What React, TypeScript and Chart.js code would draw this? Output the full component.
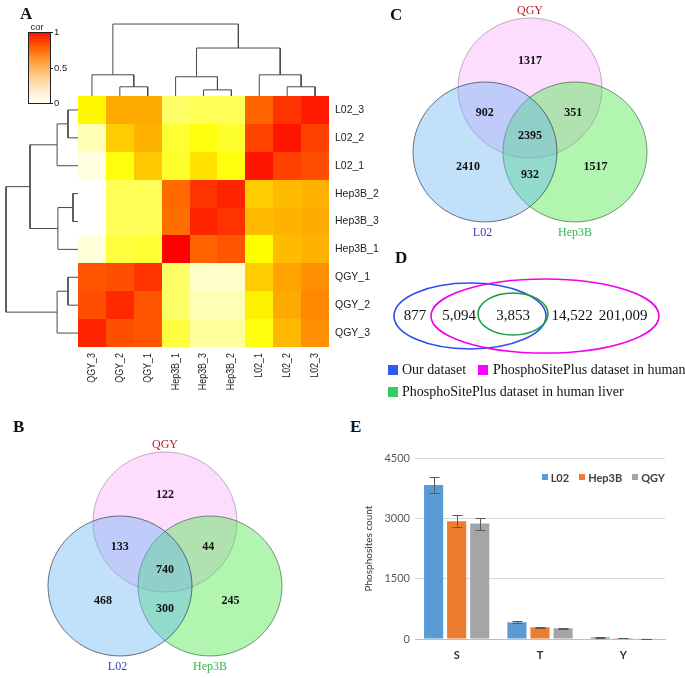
import React, { useEffect, useRef } from 'react';
import { Chart, registerables } from 'chart.js';
Chart.register(...registerables);

const SERIF = '"Liberation Serif", "Times New Roman", serif';
const SANS = '"Liberation Sans", Arial, sans-serif';
const LATO = 'Lato, "Liberation Sans", sans-serif';
Chart.defaults.font.family = SANS;

// ---------------- Panel A: correlation heatmap ----------------
const rowLabels = ['L02_3', 'L02_2', 'L02_1', 'Hep3B_2', 'Hep3B_3', 'Hep3B_1', 'QGY_1', 'QGY_2', 'QGY_3'];
const colLabels = ['QGY_3', 'QGY_2', 'QGY_1', 'Hep3B_1', 'Hep3B_3', 'Hep3B_2', 'L02_1', 'L02_2', 'L02_3'];
const corL02_3 = [0.42, 0.6, 0.6, 0.25, 0.27, 0.27, 0.77, 0.9, 0.95];
const corL02_2 = [0.15, 0.52, 0.58, 0.32, 0.38, 0.33, 0.85, 0.96, 0.86];
const corL02_1 = [0.08, 0.38, 0.53, 0.33, 0.47, 0.38, 0.96, 0.86, 0.82];
const corHep3B_2 = [0.0, 0.27, 0.27, 0.76, 0.9, 0.93, 0.52, 0.56, 0.58];
const corHep3B_3 = [0.0, 0.27, 0.27, 0.75, 0.93, 0.9, 0.56, 0.58, 0.6];
const corHep3B_1 = [0.1, 0.3, 0.32, 1.0, 0.77, 0.8, 0.4, 0.56, 0.58];
const corQGY_1 = [0.8, 0.82, 0.9, 0.25, 0.12, 0.12, 0.52, 0.62, 0.68];
const corQGY_2 = [0.82, 0.92, 0.8, 0.25, 0.15, 0.15, 0.43, 0.6, 0.7];
const corQGY_3 = [0.93, 0.82, 0.8, 0.3, 0.18, 0.18, 0.38, 0.57, 0.68];
const corRows = [corL02_3, corL02_2, corL02_1, corHep3B_2, corHep3B_3, corHep3B_1, corQGY_1, corQGY_2, corQGY_3];
const colorbarTicks = [0, 0.5, 1];
// merges: [child a, child b, height]; leaves 0..8, merged nodes numbered 9.. in order
const colMerges: [number, number, number][] = [
  [1, 2, 0.33], [0, 9, 0.76], [4, 5, 0.22], [3, 11, 0.69],
  [7, 8, 0.33], [6, 13, 0.76], [12, 14, 1.72], [10, 15, 2.58],
];
const rowMerges: [number, number, number][] = [
  [0, 1, 0.36], [2, 9, 0.75], [3, 4, 0.18], [5, 11, 0.72],
  [10, 12, 1.72], [6, 7, 0.36], [8, 14, 0.75], [13, 15, 2.58],
];

const heatStops: [number, string][] = [
  [0, '#FFFFFF'], [0.1, '#FFFFD8'], [0.2, '#FFFF90'], [0.3, '#FFFF40'], [0.4, '#FFFF00'],
  [0.5, '#FFD500'], [0.6, '#FFAA00'], [0.7, '#FF8800'], [0.8, '#FF5500'], [0.9, '#FF3300'], [1, '#FF0000'],
];
const colorbarStops: [number, string][] = [
  [0, '#FFFFF5'], [0.2, '#FFE8C8'], [0.4, '#FFC880'], [0.6, '#FF9A30'], [0.8, '#FF5A00'], [1, '#FF1000'],
];

function hexRgb(h: string) {
  return [parseInt(h.slice(1, 3), 16), parseInt(h.slice(3, 5), 16), parseInt(h.slice(5, 7), 16)];
}
function heatColor(v: number) {
  for (let k = 1; k < heatStops.length; k++) {
    const [v1, c1] = heatStops[k];
    if (v <= v1 || k === heatStops.length - 1) {
      const [v0, c0] = heatStops[k - 1];
      const t = Math.max(0, Math.min(1, (v - v0) / (v1 - v0)));
      const a = hexRgb(c0), b = hexRgb(c1);
      return `rgb(${a.map((x, i) => Math.round(x + (b[i] - x) * t)).join(',')})`;
    }
  }
  return '#fff';
}

function dendroSegments(merges: [number, number, number][], n: number, orient: 'top' | 'left') {
  const pos: number[] = [];
  const h: number[] = [];
  for (let i = 0; i < n; i++) { pos.push(i + 0.5); h.push(0); }
  const out: { x: number; y: number }[][] = [];
  merges.forEach(([a, b, ht]) => {
    const pts: [number, number][] = [[pos[a], h[a]], [pos[a], ht], [pos[b], ht], [pos[b], h[b]]];
    out.push(pts.map(([p, d]) => (orient === 'top' ? { x: p, y: -d } : { x: -d, y: p })));
    pos.push((pos[a] + pos[b]) / 2);
    h.push(ht);
  });
  return out;
}

const heatmapPlugin = {
  id: 'heatmapCells',
  beforeDatasetsDraw(chart: any) {
    const { ctx, scales: { x, y } } = chart;
    corRows.forEach((row, i) => row.forEach((v, j) => {
      const x0 = Math.round(x.getPixelForValue(j)), x1 = Math.round(x.getPixelForValue(j + 1));
      const y0 = Math.round(y.getPixelForValue(i)), y1 = Math.round(y.getPixelForValue(i + 1));
      ctx.fillStyle = heatColor(v);
      ctx.fillRect(x0, y0, x1 - x0, y1 - y0);
    }));
  },
  afterDraw(chart: any) {
    const { ctx, scales: { x, y }, chartArea } = chart;
    ctx.save();
    ctx.fillStyle = '#222';
    ctx.font = `10.5px ${SANS}`;
    ctx.textAlign = 'left';
    ctx.textBaseline = 'middle';
    rowLabels.forEach((l, i) => ctx.fillText(l, chartArea.right + 6, y.getPixelForValue(i + 0.5)));
    colLabels.forEach((l, j) => {
      ctx.save();
      ctx.translate(x.getPixelForValue(j + 0.5), chartArea.bottom + 6);
      ctx.rotate(-Math.PI / 2);
      ctx.scale(0.85, 1);
      ctx.textAlign = 'right';
      ctx.fillText(l, 0, 0);
      ctx.restore();
    });
    // colour key
    const bx = 28, by = 32, bw = 22, bh = 71;
    const g = ctx.createLinearGradient(0, by + bh, 0, by);
    colorbarStops.forEach(([s, c]) => g.addColorStop(s, c));
    ctx.fillStyle = g;
    ctx.fillRect(bx, by, bw, bh);
    ctx.strokeStyle = '#222';
    ctx.lineWidth = 1;
    ctx.strokeRect(bx + 0.5, by + 0.5, bw, bh);
    ctx.fillStyle = '#222';
    ctx.font = `9.5px ${SANS}`;
    ctx.textAlign = 'center';
    ctx.textBaseline = 'bottom';
    ctx.fillText('cor', bx + bw / 2 - 2, by);
    ctx.textAlign = 'left';
    ctx.textBaseline = 'middle';
    colorbarTicks.forEach((t) => {
      const ty = Math.round(by + bh - t * bh) + 0.5;
      ctx.beginPath();
      ctx.moveTo(bx + bw, ty);
      ctx.lineTo(bx + bw + 3, ty);
      ctx.stroke();
      ctx.fillText(String(t), bx + bw + 4, ty);
    });
    ctx.restore();
  },
};

function heatmapConfig() {
  const segs = [...dendroSegments(colMerges, colLabels.length, 'top'), ...dendroSegments(rowMerges, rowLabels.length, 'left')];
  return {
    type: 'scatter',
    data: {
      datasets: segs.map((s) => ({
        data: s, showLine: true, borderColor: '#4a4a4a', borderWidth: 1, pointRadius: 0, clip: false, tension: 0,
      })),
    },
    options: {
      animation: false, responsive: false, events: [],
      layout: { padding: { left: 78, right: 71, top: 96, bottom: 63 } },
      scales: {
        x: { type: 'linear', min: 0, max: 9, display: false },
        y: { type: 'linear', min: 0, max: 9, reverse: true, display: false },
      },
      plugins: { legend: { display: false }, tooltip: { enabled: false } },
    },
    plugins: [heatmapPlugin],
  };
}

// ---------------- Panels B & C: three-set Venn diagrams ----------------
const vennSets = ['QGY', 'L02', 'Hep3B'];
const vennCenterX = [0, -0.625, 0.625];
const vennCenterY = [0.457, -0.457, -0.457];
const vennRadius = 1;
const vennLabelX = [0, -0.66, 0.625];
const vennLabelY = [1.56, -1.61, -1.61];
// regions: QGY only, QGY∩L02, QGY∩Hep3B, all, L02 only, L02∩Hep3B, Hep3B only
const vennCountsB = [122, 133, 44, 740, 468, 300, 245];
const vennCountsC = [1317, 902, 351, 2395, 2410, 932, 1517];
const regionX = [0, -0.63, 0.6, 0, -0.86, 0, 0.91];
const regionY = [0.85, 0.1, 0.1, -0.23, -0.67, -0.79, -0.67];
const vennFill = ['rgba(250,180,250,0.45)', 'rgba(100,180,245,0.4)', 'rgba(70,230,70,0.42)'];
const vennStroke = ['rgba(150,110,150,0.55)', 'rgba(50,60,80,0.7)', 'rgba(50,80,50,0.6)'];
const vennLabelColor = ['#B4202E', '#3838B8', '#2EB84B'];
const vennDrawOrder = [0, 2, 1];

function vennConfig(counts: number[], padding: any) {
  const plugin = {
    id: 'venn',
    afterDatasetsDraw(chart: any) {
      const { ctx, scales: { x, y } } = chart;
      const rx = Math.abs(x.getPixelForValue(vennRadius) - x.getPixelForValue(0));
      const ry = Math.abs(y.getPixelForValue(vennRadius) - y.getPixelForValue(0));
      ctx.save();
      vennDrawOrder.forEach((i) => {
        ctx.beginPath();
        ctx.ellipse(x.getPixelForValue(vennCenterX[i]), y.getPixelForValue(vennCenterY[i]), rx, ry, 0, 0, Math.PI * 2);
        ctx.fillStyle = vennFill[i];
        ctx.fill();
        ctx.strokeStyle = vennStroke[i];
        ctx.lineWidth = 1;
        ctx.stroke();
      });
      ctx.textAlign = 'center';
      ctx.textBaseline = 'middle';
      ctx.font = `bold 12px ${SERIF}`;
      ctx.fillStyle = '#111';
      counts.forEach((c, k) => ctx.fillText(String(c), x.getPixelForValue(regionX[k]), y.getPixelForValue(regionY[k])));
      ctx.font = `12px ${SERIF}`;
      vennSets.forEach((s, i) => {
        ctx.fillStyle = vennLabelColor[i];
        ctx.fillText(s, x.getPixelForValue(vennLabelX[i]), y.getPixelForValue(vennLabelY[i]));
      });
      ctx.restore();
    },
  };
  return {
    type: 'scatter',
    data: { datasets: [{ data: vennCenterX.map((cx, i) => ({ x: cx, y: vennCenterY[i] })), pointRadius: 0 }] },
    options: {
      animation: false, responsive: false, events: [],
      layout: { padding },
      scales: {
        x: { type: 'linear', min: -2, max: 2, display: false },
        y: { type: 'linear', min: -1.6, max: 1.6, display: false },
      },
      plugins: { legend: { display: false }, tooltip: { enabled: false } },
    },
    plugins: [plugin],
  };
}

// ---------------- Panel D: nested Venn of datasets ----------------
const dSets = ['Our dataset', 'PhosphoSitePlus dataset in human', 'PhosphoSitePlus dataset in human liver'];
const dCenterX = [8.0, 15.5, 12.3];
const dCenterY = [0, 0, 0.2];
const dRadiusX = [7.6, 11.4, 3.5];
const dRadiusY = [3.3, 3.7, 2.1];
const dStroke = ['#2B4FEE', '#F000F0', '#1A9E3A'];
const dLegendColor = ['#2F5BF5', '#FF00FF', '#33CC66'];
const dCounts = [877, 5094, 3853, 14522, 201009];
const dCountX = [2.5, 6.9, 12.3, 18.2, 23.3];

function dConfig() {
  const plugin = {
    id: 'dVenn',
    afterDatasetsDraw(chart: any) {
      const { ctx, scales: { x, y } } = chart;
      ctx.save();
      dSets.forEach((_, i) => {
        const cx = x.getPixelForValue(dCenterX[i]), cy = y.getPixelForValue(dCenterY[i]);
        const rx = Math.abs(x.getPixelForValue(dCenterX[i] + dRadiusX[i]) - cx);
        const ry = Math.abs(y.getPixelForValue(dCenterY[i] + dRadiusY[i]) - cy);
        ctx.beginPath();
        ctx.ellipse(cx, cy, rx, ry, 0, 0, Math.PI * 2);
        ctx.strokeStyle = dStroke[i];
        ctx.lineWidth = 1.6;
        ctx.stroke();
      });
      ctx.fillStyle = '#111';
      ctx.font = `15px ${SERIF}`;
      ctx.textAlign = 'center';
      ctx.textBaseline = 'middle';
      dCounts.forEach((c, k) => ctx.fillText(c.toLocaleString('en-US'), x.getPixelForValue(dCountX[k]), y.getPixelForValue(0)));
      ctx.restore();
    },
  };
  return {
    type: 'scatter',
    data: { datasets: [{ data: dCenterX.map((cx, i) => ({ x: cx, y: dCenterY[i] })), pointRadius: 0 }] },
    options: {
      animation: false, responsive: false, events: [],
      layout: { padding: { left: 10, right: 10, top: 10, bottom: 10 } },
      scales: {
        x: { type: 'linear', min: 0, max: 28, display: false },
        y: { type: 'linear', min: -4, max: 4, display: false },
      },
      plugins: { legend: { display: false }, tooltip: { enabled: false } },
    },
    plugins: [plugin],
  };
}

// ---------------- Panel E: phosphosite counts ----------------
const phosphoCategories = ['S', 'T', 'Y'];
const cellLines = ['L02', 'Hep3B', 'QGY'];
const l02Counts = [3830, 415, 42];
const hep3BCounts = [2930, 290, 22];
const qgyCounts = [2870, 267, 9];
const l02Errors = [195, 25, 6];
const hep3BErrors = [150, 12, 4];
const qgyErrors = [150, 12, 3];
const barColors = ['#5B9BD5', '#ED7D31', '#A5A5A5'];
const yTickStep = 1500;
const yMax = 4500;

const errorBarPlugin = {
  id: 'errorBars',
  afterDatasetsDraw(chart: any) {
    const { ctx, scales: { y } } = chart;
    const errs = [l02Errors, hep3BErrors, qgyErrors];
    ctx.save();
    ctx.strokeStyle = '#595959';
    ctx.lineWidth = 1;
    chart.data.datasets.forEach((ds: any, i: number) => {
      chart.getDatasetMeta(i).data.forEach((bar: any, j: number) => {
        const v = ds.data[j], e = errs[i][j];
        const bx = Math.round(bar.x) + 0.5;
        const yt = Math.round(y.getPixelForValue(v + e)) + 0.5;
        const yb = Math.round(y.getPixelForValue(v - e)) + 0.5;
        ctx.beginPath();
        ctx.moveTo(bx, yt); ctx.lineTo(bx, yb);
        ctx.moveTo(bx - 5, yt); ctx.lineTo(bx + 5, yt);
        ctx.moveTo(bx - 5, yb); ctx.lineTo(bx + 5, yb);
        ctx.stroke();
      });
    });
    ctx.restore();
  },
};

function barConfig() {
  const series = [l02Counts, hep3BCounts, qgyCounts];
  return {
    type: 'bar',
    data: {
      labels: phosphoCategories,
      datasets: cellLines.map((name, i) => ({
        label: name, data: series[i], backgroundColor: barColors[i], borderWidth: 0,
        categoryPercentage: 0.83, barPercentage: 0.83,
      })),
    },
    options: {
      animation: false, responsive: false, events: [],
      layout: { padding: { left: 0, right: 20, top: 18, bottom: 0 } },
      scales: {
        x: {
          grid: { display: false, drawTicks: false },
          border: { display: true, color: '#BFBFBF' },
          ticks: { font: { family: LATO, size: 11, weight: 'bold' }, color: '#333', padding: 10 },
          afterFit: (s: any) => { s.height = 39; },
        },
        y: {
          min: 0, max: yMax,
          ticks: {
            stepSize: yTickStep, font: { family: LATO, size: 11 }, color: '#595959', padding: 5,
            callback: (v: any) => String(v),
          },
          grid: { color: '#D9D9D9', drawTicks: false },
          border: { display: false },
          title: { display: true, text: 'Phosphosites count', font: { family: LATO, size: 10 }, color: '#333', padding: { top: 3, bottom: 0 } },
          afterFit: (s: any) => { s.width = 55; },
        },
      },
      plugins: { legend: { display: false }, tooltip: { enabled: false } },
    },
    plugins: [errorBarPlugin],
  };
}

// ---------------- components ----------------
function ChartBox({ left, top, width, height, make }: { left: number; top: number; width: number; height: number; make: () => any }) {
  const ref = useRef<HTMLCanvasElement>(null);
  useEffect(() => {
    const c = new Chart(ref.current as HTMLCanvasElement, make());
    return () => c.destroy();
  }, []);
  return <canvas ref={ref} width={width} height={height} style={{ position: 'absolute', left, top, width, height }} />;
}

const letterStyle = (left: number, top: number): React.CSSProperties => ({
  position: 'absolute', left, top, font: `bold 17px ${SERIF}`, lineHeight: '17px', color: '#111',
});

function Swatch({ left, top, color, label, size, font, gap, textColor }: any) {
  return (
    <div style={{ position: 'absolute', left, top, height: 16, display: 'flex', alignItems: 'center', whiteSpace: 'nowrap' }}>
      <span style={{ width: size, height: size, background: color, display: 'inline-block', marginRight: gap }} />
      <span style={{ font, color: textColor }}>{label}</span>
    </div>
  );
}

export default function App() {
  return (
    <div style={{ position: 'absolute', left: 0, top: 0, width: 685, height: 678, overflow: 'hidden', background: '#fff' }}>
      <ChartBox left={0} top={0} width={400} height={410} make={heatmapConfig} />
      <ChartBox left={0} top={420} width={340} height={258} make={() => vennConfig(vennCountsB, { left: 21, right: 31, top: 22, bottom: 12 })} />
      <ChartBox left={365} top={0} width={320} height={258} make={() => vennConfig(vennCountsC, { left: 21, right: 11, top: 8, bottom: 26 })} />
      <ChartBox left={380} top={266} width={300} height={100} make={dConfig} />
      <ChartBox left={360} top={440} width={325} height={238} make={barConfig} />

      <div style={letterStyle(20, 5)}>A</div>
      <div style={letterStyle(13, 418)}>B</div>
      <div style={letterStyle(390, 6)}>C</div>
      <div style={letterStyle(395, 249)}>D</div>
      <div style={letterStyle(350, 418)}>E</div>

      <Swatch left={388} top={362} color={dLegendColor[0]} label={dSets[0]} size={10} gap={4} font={`14px ${SERIF}`} textColor="#111" />
      <Swatch left={478} top={362} color={dLegendColor[1]} label={dSets[1]} size={10} gap={5} font={`14px ${SERIF}`} textColor="#111" />
      <Swatch left={388} top={384} color={dLegendColor[2]} label={dSets[2]} size={10} gap={4} font={`14px ${SERIF}`} textColor="#111" />

      <div style={{ position: 'absolute', right: 20, top: 469, height: 16, display: 'flex', alignItems: 'center', gap: 10, whiteSpace: 'nowrap' }}>
        {cellLines.map((n, i) => (
          <div key={n} style={{ display: 'flex', alignItems: 'center' }}>
            <span style={{ width: 6, height: 6, background: barColors[i], display: 'inline-block', marginRight: 3 }} />
            <span style={{ font: `bold 11px ${LATO}`, color: '#404040' }}>{n}</span>
          </div>
        ))}
      </div>
    </div>
  );
}
